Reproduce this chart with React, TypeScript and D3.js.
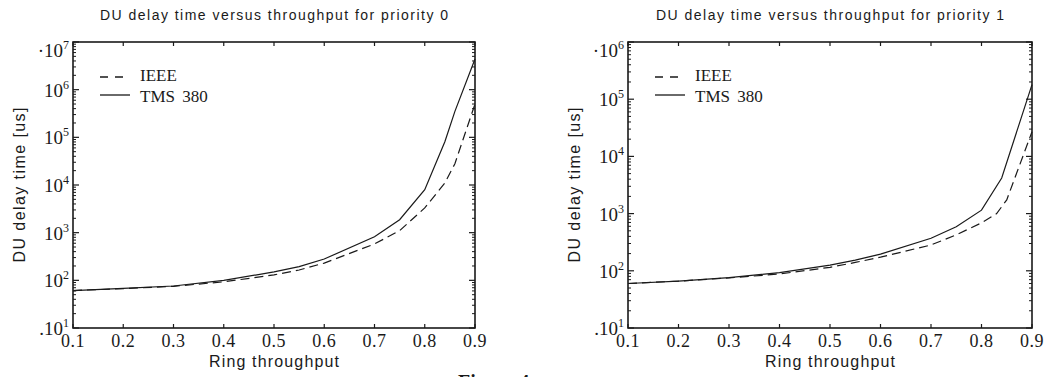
import React from "react";
import * as d3 from "d3";

// ---- data ----
const throughputTicks = [0.1, 0.2, 0.3, 0.4, 0.5, 0.6, 0.7, 0.8, 0.9];
const throughputTickLabels = ["0.1", "0.2", "0.3", "0.4", "0.5", "0.6", "0.7", "0.8", "0.9"];

const p0Exponents = [1, 2, 3, 4, 5, 6, 7];
const p1Exponents = [1, 2, 3, 4, 5, 6];

// priority 0
const p0IeeeX = [0.1, 0.2, 0.3, 0.4, 0.5, 0.55, 0.6, 0.7, 0.75, 0.8, 0.84, 0.86, 0.9];
const p0IeeeY = [61, 67, 75, 93, 130, 165, 230, 580, 1100, 3300, 11000, 28000, 500000];
const p0TmsX = [0.1, 0.2, 0.3, 0.4, 0.5, 0.55, 0.6, 0.7, 0.75, 0.8, 0.84, 0.86, 0.9];
const p0TmsY = [61, 68, 76, 100, 150, 194, 280, 820, 1870, 8000, 81000, 350000, 4400000];

// priority 1
const p1IeeeX = [0.1, 0.2, 0.3, 0.4, 0.5, 0.55, 0.6, 0.7, 0.75, 0.8, 0.83, 0.85, 0.9];
const p1IeeeY = [60, 66, 75, 88, 115, 140, 173, 283, 425, 690, 1000, 1740, 27000];
const p1TmsX = [0.1, 0.2, 0.3, 0.4, 0.5, 0.55, 0.6, 0.7, 0.75, 0.8, 0.84, 0.9];
const p1TmsY = [60, 66, 76, 93, 126, 154, 196, 370, 590, 1150, 4200, 180000];

const titles = [
  "DU delay time versus throughput for priority 0",
  "DU delay time versus throughput for priority 1",
];
const legendLabels = ["IEEE", "TMS 380"];
const xTitle = "Ring throughput";
const yTitle = "DU delay time [us]";

const SERIF = "'Liberation Serif', 'DejaVu Serif', serif";
const SANS = "'Liberation Sans', Arial, sans-serif";
const INK = "#1a1a1a";

type Series = { x: number[]; y: number[]; dashed: boolean };

function Panel(props: {
  left: number;
  right: number;
  top: number;
  bottom: number;
  exps: number[];
  title: string;
  series: Series[];
}) {
  const { left, right, top, bottom, exps, title, series } = props;
  const x = d3.scaleLinear().domain([0.1, 0.9]).range([left, right]);
  const y = d3
    .scaleLog()
    .domain([Math.pow(10, exps[0]), Math.pow(10, exps[exps.length - 1])])
    .range([bottom, top]);
  const line = d3
    .line<[number, number]>()
    .x((d) => x(d[0]))
    .y((d) => y(d[1]));

  const minor: number[] = [];
  for (let i = 0; i < exps.length - 1; i++) {
    for (let m = 2; m <= 9; m++) minor.push(m * Math.pow(10, exps[i]));
  }
  const cx = (left + right) / 2;
  const cy = (top + bottom) / 2;

  return (
    <g>
      <text
        x={cx}
        y={19.5}
        textAnchor="middle"
        fontFamily={SANS}
        fontSize={14}
        fill={INK}
        textLength={348}
        lengthAdjust="spacing"
      >
        {title}
      </text>
      {/* curves */}
      <g clipPath="none">
        {series.map((s, i) => (
          <path
            key={i}
            d={line(s.x.map((v, j) => [v, s.y[j]] as [number, number])) || ""}
            fill="none"
            stroke={INK}
            strokeWidth={1.2}
            strokeDasharray={s.dashed ? "9 5" : undefined}
          />
        ))}
      </g>
      {/* frame */}
      <rect
        x={left}
        y={top}
        width={right - left}
        height={bottom - top}
        fill="none"
        stroke={INK}
        strokeWidth={1.6}
      />
      {/* x ticks */}
      {throughputTicks.map((t, i) => (
        <g key={i}>
          <line x1={x(t)} x2={x(t)} y1={bottom} y2={bottom - 4} stroke={INK} strokeWidth={1.2} />
          <line x1={x(t)} x2={x(t)} y1={top} y2={top + 4} stroke={INK} strokeWidth={1.2} />
          <text
            x={x(t)}
            y={347}
            textAnchor="middle"
            fontFamily={SERIF}
            fontSize={18}
            fill={INK}
            letterSpacing={0.5}
          >
            {throughputTickLabels[i]}
          </text>
        </g>
      ))}
      {/* y ticks */}
      {minor.map((v, i) => (
        <g key={"m" + i}>
          <line x1={left} x2={left + 3} y1={y(v)} y2={y(v)} stroke={INK} strokeWidth={1} />
          <line x1={right} x2={right - 3} y1={y(v)} y2={y(v)} stroke={INK} strokeWidth={1} />
        </g>
      ))}
      {exps.map((e, i) => {
        const v = Math.pow(10, e);
        const yy = y(v);
        const isTop = i === exps.length - 1;
        const isBottom = i === 0;
        const base = isTop ? yy + 15 : yy + 7;
        return (
          <g key={"M" + i}>
            <line x1={left} x2={left + 6} y1={yy} y2={yy} stroke={INK} strokeWidth={1.2} />
            <line x1={right} x2={right - 6} y1={yy} y2={yy} stroke={INK} strokeWidth={1.2} />
            <text
              x={left - 4}
              y={base}
              textAnchor="end"
              fontFamily={SERIF}
              fontSize={19}
              fill={INK}
            >
              {isBottom ? "." : isTop ? "\u00b7" : ""}
              10
              <tspan dy={-8} fontSize={12}>
                {String(e)}
              </tspan>
            </text>
          </g>
        );
      })}
      {/* axis titles */}
      <text
        x={cx}
        y={367}
        textAnchor="middle"
        fontFamily={SANS}
        fontSize={16}
        fill={INK}
        textLength={130}
        lengthAdjust="spacing"
      >
        {xTitle}
      </text>
      <text
        transform={`translate(${left - 48},${cy}) rotate(-90)`}
        textAnchor="middle"
        fontFamily={SANS}
        fontSize={16}
        fill={INK}
        textLength={155}
        lengthAdjust="spacing"
      >
        {yTitle}
      </text>
      {/* legend */}
      <line
        x1={left + 27}
        x2={left + 54}
        y1={77}
        y2={77}
        stroke={INK}
        strokeWidth={1.3}
        strokeDasharray="8 7"
      />
      <text x={left + 67} y={81} fontFamily={SERIF} fontSize={17} fill={INK}>
        {legendLabels[0]}
      </text>
      <line x1={left + 27} x2={left + 57} y1={95} y2={95} stroke={INK} strokeWidth={1.3} />
      <text x={left + 67} y={102} fontFamily={SERIF} fontSize={17} fill={INK} wordSpacing={3}>
        {legendLabels[1]}
      </text>
    </g>
  );
}

export default function App() {
  return (
    <div style={{ position: "absolute", left: 0, top: 0, width: 1050, height: 377, overflow: "hidden", background: "#fff" }}>
      <svg width={1050} height={377} style={{ display: "block" }}>
        <rect x={0} y={0} width={1050} height={377} fill="#fff" />
        <Panel
          left={73}
          right={475}
          top={42}
          bottom={328}
          exps={p0Exponents}
          title={titles[0]}
          series={[
            { x: p0IeeeX, y: p0IeeeY, dashed: true },
            { x: p0TmsX, y: p0TmsY, dashed: false },
          ]}
        />
        <Panel
          left={628}
          right={1032}
          top={42}
          bottom={328}
          exps={p1Exponents}
          title={titles[1]}
          series={[
            { x: p1IeeeX, y: p1IeeeY, dashed: true },
            { x: p1TmsX, y: p1TmsY, dashed: false },
          ]}
        />
        <text x={458} y={389} fontFamily={SERIF} fontWeight="bold" fontSize={20} fill={INK}>
          Figure 4
        </text>
      </svg>
    </div>
  );
}
